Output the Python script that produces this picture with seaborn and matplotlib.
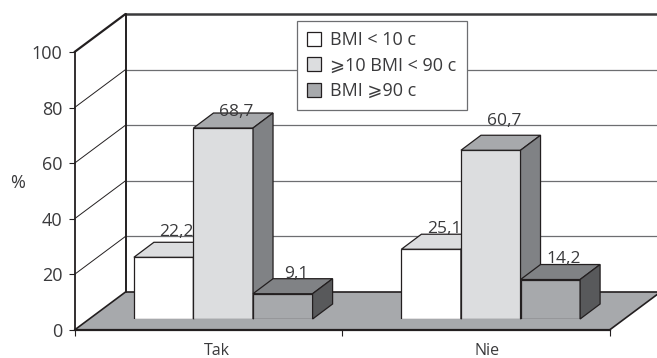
import matplotlib
matplotlib.use('Agg')
import matplotlib.pyplot as plt
import pandas as pd
import seaborn as sns
from matplotlib.patches import Polygon

# Values
categories = ['Tak', 'Nie']
groups = ['BMI < 10 c', '⩾10 BMI < 90 c', 'BMI ⩾90 c']
low_bmi = [22.2, 25.1]
mid_bmi = [68.7, 60.7]
high_bmi = [9.1, 14.2]
y_ticks = [0, 20, 40, 60, 80, 100]

# Colours per series: front, top, side
front_colors = ['#FFFFFF', '#DCDDDF', '#A7A9AC']
top_colors = ['#DCDDDF', '#A7A9AC', '#808285']
side_colors = ['#A7A9AC', '#808285', '#58595B']
edge = '#231F20'
text_color = '#3A3A3C'

# Pixel geometry of the fake 3D box
W, H = 657, 358
left, right, floor_y, top_y = 74.5, 609.5, 330, 52
px_x = (right - left) / 2       # pixels per category
px_y = (floor_y - top_y) / 100  # pixels per percent
wall_dx, wall_dy = 51 / px_x, 38 / px_y
bar_dx, bar_dy = 20 / px_x, 15 / px_y

# Label nudges in pixels above the bar front, Tak then Nie
label_lift = [25, 16, 20, 20, 29, 21]

df = pd.DataFrame({
    'odp': categories * 3,
    'grupa': [groups[0]] * 2 + [groups[1]] * 2 + [groups[2]] * 2,
    'pct': low_bmi + mid_bmi + high_bmi,
})

sns.set_style('white')
plt.rcParams['font.family'] = ['Open Sans', 'DejaVu Sans']
plt.rcParams['font.size'] = 13

fig = plt.figure(figsize=(W / 100, H / 100), dpi=100)
ax = fig.add_axes([left / W, (H - floor_y) / H, (right - left) / W, (floor_y - top_y) / H])
ax_bars = fig.add_axes([(left + 15) / W, (H - floor_y + 11) / H, (right - left) / W, (floor_y - top_y) / H])
ax.set_zorder(1)
ax_bars.set_zorder(2)
ax.patch.set_visible(False)

# Floor and walls
xl, xr = -0.5, 1.5
ax.add_patch(Polygon([(xl, 0), (xr, 0), (xr + wall_dx, wall_dy), (xl + wall_dx, wall_dy)],
                     facecolor='#A7A9AC', edgecolor=edge, lw=1.2, clip_on=False, zorder=1))
for t in y_ticks[1:]:
    ax.plot([xl, xl + wall_dx], [t, t + wall_dy], color=edge, lw=1.6 if t == 100 else 0.7,
            clip_on=False, zorder=2)
    ax.plot([xl + wall_dx, xr + wall_dx], [t + wall_dy, t + wall_dy],
            color='#3A3A3C' if t == 100 else '#6D6E71', lw=1.8 if t == 100 else 0.9,
            clip_on=False, zorder=2)
ax.plot([xl + wall_dx, xl + wall_dx], [wall_dy, 100 + wall_dy], color=edge, lw=1.4, clip_on=False, zorder=2)

ax.set_xlim(xl, xr)
ax.set_ylim(0, 100)
ax.set_yticks(y_ticks)
ax.set_xticks([0.034, 1.042], categories)
ax.set_xticks([-0.5, 0.5, 1.5], minor=True)
ax.tick_params(axis='y', length=4.3, width=0.8, color=edge, labelsize=13, labelcolor=text_color, pad=4.5, left=True)
ax.tick_params(axis='x', which='major', length=0, labelsize=11.5, labelcolor=text_color, pad=9.5)
ax.tick_params(axis='x', which='minor', length=4, width=0.8, color=edge, bottom=True)
ax.set_ylabel('%', rotation=0, color=text_color, fontsize=13)
ax.yaxis.set_label_coords(-0.106, 0.497)
for name in ['top', 'right']:
    ax.spines[name].set_visible(False)
ax.spines['left'].set_linewidth(1.3)
ax.spines['left'].set_color(edge)
ax.spines['bottom'].set_linewidth(1.6)
ax.spines['bottom'].set_color(edge)

# Bars
sns.barplot(data=df, x='odp', y='pct', hue='grupa', palette=front_colors, saturation=1,
            width=0.668, gap=0, edgecolor=edge, linewidth=0.9, ax=ax_bars, zorder=3)
ax_bars.set_xlim(xl, xr)
ax_bars.set_ylim(0, 100)
ax_bars.axis('off')
handles, labels = ax_bars.get_legend_handles_labels()

bars = []
for s, cont in enumerate(ax_bars.containers):
    for b in cont:
        bars.append((b, s))
bars.sort(key=lambda item: item[0].get_x())

# Top and side faces, painted left to right so each bar covers the one before
for i, (b, s) in enumerate(bars):
    x0 = b.get_x()
    x1 = x0 + b.get_width()
    h = b.get_height()
    z = 3 + i
    b.set_zorder(z)
    ax_bars.add_patch(Polygon([(x0, h), (x1, h), (x1 + bar_dx, h + bar_dy), (x0 + bar_dx, h + bar_dy)],
                              facecolor=top_colors[s], edgecolor=edge, lw=0.9, clip_on=False, zorder=z))
    ax_bars.add_patch(Polygon([(x1, 0), (x1 + bar_dx, bar_dy), (x1 + bar_dx, h + bar_dy), (x1, h)],
                              facecolor=side_colors[s], edgecolor=edge, lw=0.9, clip_on=False, zorder=z))
    ax_bars.annotate(str(h).replace('.', ','), ((x0 + x1) / 2, h), xytext=(13, label_lift[i]),
                     textcoords='offset pixels', ha='center', va='center', fontsize=12.5,
                     color=text_color, zorder=z + 0.5, annotation_clip=False)

leg = ax_bars.legend(handles, labels, loc='upper left', bbox_to_anchor=(297 / W, 1 - 21 / H),
                     bbox_transform=fig.transFigure, borderaxespad=0, frameon=True, fancybox=False,
                     framealpha=1, facecolor='white', edgecolor='#6D6E71', fontsize=13,
                     handlelength=0.8, handleheight=0.8, handletextpad=0.5, labelspacing=0.42,
                     borderpad=0.55, labelcolor=text_color)
leg.set_zorder(20)
leg.get_frame().set_linewidth(0.9)

fig.savefig('out.png', dpi=100)
